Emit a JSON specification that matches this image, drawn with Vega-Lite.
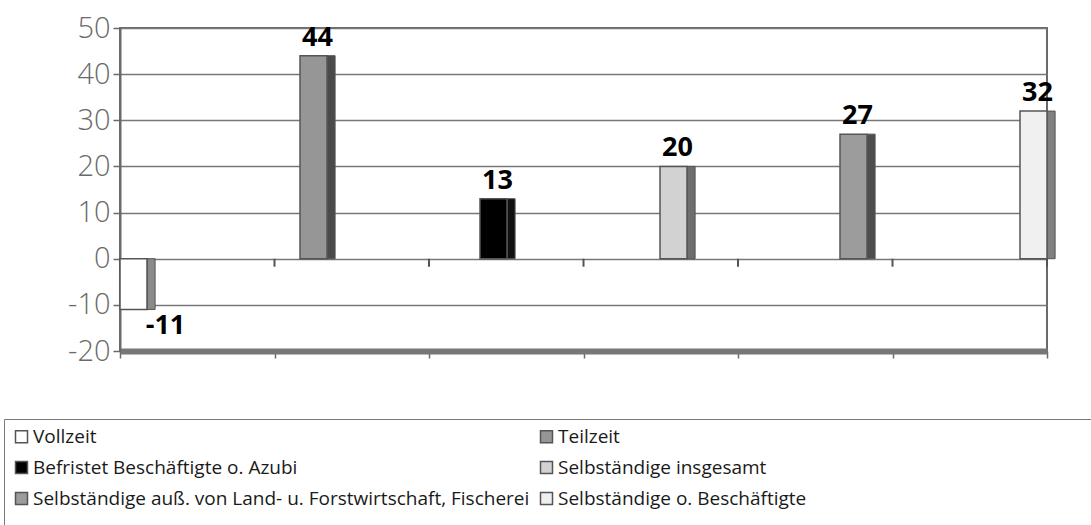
{
  "$schema": "https://vega.github.io/schema/vega-lite/v6.json",
  "width": 927,
  "height": 323,
  "autosize": "none",
  "padding": {"left": 120, "top": 28, "right": 44, "bottom": 174},
  "background": "white",
  "config": {
    "view": {"stroke": "#6a6a6a", "strokeWidth": 2},
    "font": "Open Sans"
  },
  "datasets": {
    "bars": [
      {"cat": "Vollzeit", "value": -11},
      {"cat": "Teilzeit", "value": 44},
      {"cat": "Befristet Beschäftigte o. Azubi", "value": 13},
      {"cat": "Selbständige insgesamt", "value": 20},
      {"cat": "Selbständige auß. von Land- u. Forstwirtschaft, Fischerei", "value": 27},
      {"cat": "Selbständige o. Beschäftigte", "value": 32}
    ],
    "ticks": [{"t": 0}, {"t": 1}, {"t": 2}, {"t": 3}, {"t": 4}, {"t": 5}, {"t": 6}]
  },
  "layer": [
    {
      "data": {"name": "ticks"},
      "mark": {"type": "tick", "orient": "vertical", "size": 8, "thickness": 2, "yOffset": 4, "color": "#555555", "opacity": 1},
      "encoding": {
        "x": {
          "field": "t", "type": "quantitative",
          "scale": {"domain": [0, 6], "nice": false, "zero": false},
          "axis": {
            "orient": "bottom", "values": [0, 1, 2, 3, 4, 5, 6], "labels": false,
            "ticks": true, "tickSize": 7, "tickColor": "#6a6a6a", "tickWidth": 1.5,
            "domain": true, "domainColor": "#777777", "domainWidth": 6,
            "grid": false, "title": null
          }
        },
        "y": {
          "datum": 0, "type": "quantitative",
          "scale": {"domain": [-20, 50], "nice": false},
          "axis": {
            "values": [-20, -10, 0, 10, 20, 30, 40, 50],
            "labelExpr": "'' + datum.value",
            "grid": true, "gridColor": "#777777", "gridWidth": 1.5,
            "domain": true, "domainColor": "#6a6a6a", "domainWidth": 2,
            "ticks": true, "tickColor": "#6a6a6a", "tickSize": 7, "tickWidth": 1.5,
            "labelFontSize": 29, "labelColor": "#6a6a6a", "labelPadding": 3,
            "labelFont": "Open Sans", "labelFontWeight": 300, "title": null
          }
        }
      }
    },
    {
      "data": {"name": "bars"},
      "mark": {"type": "rect", "stroke": "#555555", "strokeWidth": 1},
      "encoding": {
        "x": {
          "field": "cat", "type": "nominal", "bandPosition": 1,
          "sort": null,
          "scale": {"paddingInner": 0.85, "paddingOuter": 0},
          "axis": null
        },
        "x2": {"field": "cat", "bandPosition": 1.3},
        "y": {"field": "value", "type": "quantitative"},
        "y2": {"datum": 0},
        "color": {
          "field": "cat", "type": "nominal", "sort": null,
          "scale": {
            "domain": ["Vollzeit", "Teilzeit", "Befristet Beschäftigte o. Azubi", "Selbständige insgesamt", "Selbständige auß. von Land- u. Forstwirtschaft, Fischerei", "Selbständige o. Beschäftigte"],
            "range": ["#8a8a8a", "#4a4a4a", "#111111", "#6e6e6e", "#4d4d4d", "#808080"]
          },
          "legend": null
        }
      }
    },
    {
      "data": {"name": "bars"},
      "mark": {"type": "bar", "stroke": "#555555", "strokeWidth": 1.5, "opacity": 1},
      "encoding": {
        "x": {
          "field": "cat", "type": "nominal", "sort": null,
          "scale": {"paddingInner": 0.85, "paddingOuter": 0},
          "axis": null
        },
        "y": {"field": "value", "type": "quantitative"},
        "color": {
          "field": "cat", "type": "nominal",
          "scale": {
            "domain": ["Vollzeit", "Befristet Beschäftigte o. Azubi", "Selbständige auß. von Land- u. Forstwirtschaft, Fischerei", "Teilzeit", "Selbständige insgesamt", "Selbständige o. Beschäftigte"],
            "range": ["#ffffff", "#000000", "#9c9c9c", "#969696", "#d2d2d2", "#f0f0f0"]
          },
          "legend": {
            "title": " ", "titleOrient": "right", "titleFontSize": 110, "titlePadding": 290,
            "titleColor": "#ffffff",
            "orient": "none", "legendX": -116, "legendY": 391,
            "columns": 2, "columnPadding": 7, "rowPadding": 11,
            "padding": 8, "strokeColor": "#7a7a7a",
            "symbolType": "square", "symbolSize": 144, "symbolStrokeColor": "#555555",
            "symbolStrokeWidth": 1.5, "symbolOpacity": 1,
            "labelFontSize": 19, "labelFont": "Open Sans", "labelColor": "#1a1a1a",
            "labelOffset": 2, "labelLimit": 0
          }
        }
      }
    },
    {
      "data": {"name": "bars"},
      "transform": [{"filter": "datum.value >= 0"}],
      "mark": {"type": "text", "baseline": "alphabetic", "align": "center", "dx": 4, "dy": -10, "fontSize": 27, "fontWeight": "bold", "font": "Open Sans", "color": "#000000"},
      "encoding": {
        "x": {
          "field": "cat", "type": "nominal", "sort": null,
          "scale": {
            "type": "band",
            "domain": ["Vollzeit", "Teilzeit", "Befristet Beschäftigte o. Azubi", "Selbständige insgesamt", "Selbständige auß. von Land- u. Forstwirtschaft, Fischerei", "Selbständige o. Beschäftigte"],
            "paddingInner": 0.85, "paddingOuter": 0
          },
          "axis": null
        },
        "y": {"field": "value", "type": "quantitative"},
        "text": {"field": "value", "type": "nominal"}
      }
    },
    {
      "data": {"name": "bars"},
      "transform": [{"filter": "datum.value < 0"}],
      "mark": {"type": "text", "baseline": "alphabetic", "align": "center", "dx": 32, "dy": 25, "fontSize": 27, "fontWeight": "bold", "font": "Open Sans", "color": "#000000"},
      "encoding": {
        "x": {
          "field": "cat", "type": "nominal", "sort": null,
          "scale": {
            "type": "band",
            "domain": ["Vollzeit", "Teilzeit", "Befristet Beschäftigte o. Azubi", "Selbständige insgesamt", "Selbständige auß. von Land- u. Forstwirtschaft, Fischerei", "Selbständige o. Beschäftigte"],
            "paddingInner": 0.85, "paddingOuter": 0
          },
          "axis": null
        },
        "y": {"field": "value", "type": "quantitative"},
        "text": {"field": "value", "type": "nominal"}
      }
    }
  ],
  "resolve": {"scale": {"x": "independent", "color": "independent"}, "axis": {"x": "independent"}}
}
